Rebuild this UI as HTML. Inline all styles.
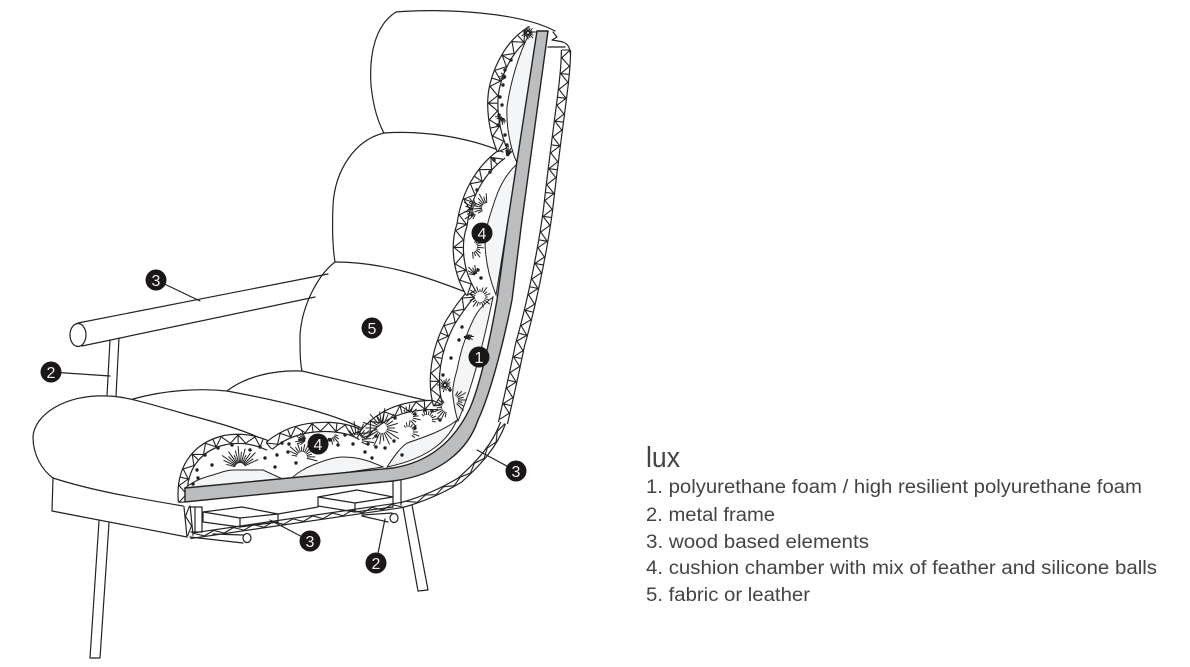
<!DOCTYPE html>
<html><head><meta charset="utf-8"><style>
html,body{margin:0;padding:0;background:#fff}
svg{display:block}
.l{fill:none;stroke:#222;stroke-width:1.2;stroke-linejoin:round;stroke-linecap:round}
text{font-family:"Liberation Sans",sans-serif;fill:#444}
.b text{fill:#eee;font-size:16px;text-anchor:middle}
.b circle{fill:#1b1717}
</style></head><body>
<svg id="s" xmlns="http://www.w3.org/2000/svg" width="1190" height="667" viewBox="0 0 1190 667">
<rect width="1190" height="667" fill="#fff"/>
<g class="l">
<path d="M396,12C440,8 520,12 555,31"/>
<path d="M396,12C375,25 369,55 371,85C373,105 378,122 384,133"/>
<path d="M384,133C425,130 470,138 503,152"/>
<path d="M384,133C355,140 335,170 333,205C332,230 333,250 335,262"/>
<path d="M335,262C385,262 430,278 468,293"/>
<path d="M335,262C318,275 302,305 300,335C300,350 300,362 302,371"/>
<path d="M302,371L437,403"/>
<path d="M227,391C245,377 272,370 302,371"/>
<path d="M133,399C165,390 200,388 227,391C275,400 330,412 361,428"/>
<path d="M33,437C34,415 65,394 107,396C125,396 150,404 185,414C215,422 245,430 266,441"/>
<path d="M33,437C33,455 42,470 53,478C90,490 130,497 183,506"/>
<path d="M53,478L52,511L187,537"/>
<path d="M78,323L328,274M82,346L315,297"/>
<ellipse cx="78" cy="335" rx="8" ry="11.5"/>
<path d="M110,340L107,396M119,338L116,396"/>
<path d="M99,521L90,658L100,658L109,523"/>
<path d="M403,507L418,591L428,590L412,505"/>
</g>
<g id="bands"></g>
<g fill="#f3f5f6" stroke="#222" stroke-width="1">
<path d="M530,32C518,55 510,85 507,107C506,125 510,148 517,163L537,32Z"/>
<path d="M517,164C508,172 500,185 495,200C490,215 485,230 485,240C485,260 490,280 496,295L517,164Z"/>
<path d="M493,297C485,303 481,307 477,313C471,323 468,331 465,340C461,350 459,360 457,370C454,380 452,390 453,397C454,405 456,415 458,421C465,405 478,370 493,297Z"/>
<path d="M185,488C195,480 205,477 213,475C222,472 228,470 233,470L263,470L287,481Z"/>
<path d="M289,481C295,474 305,468 313,465C325,460 335,457 343,457C360,457 372,462 383,467Z"/>
<path d="M387,467C395,455 400,448 407,443C425,437 445,430 457,420C448,440 430,458 387,467Z"/>
</g>
<path d="M185,488L393,468C430,462 455,440 470,408C480,385 490,340 497,300L508,220L537,31L548,31L522,220L512,300C505,335 492,390 478,420C468,450 440,475 393,481L185,502Z" fill="#bcbdbf" stroke="#222" stroke-width="1.4"/>
<g id="fe" stroke="#222" stroke-width="1" fill="#222"></g>
<g class="l">
<path d="M203,512L242,507L278,514L240,518Z" fill="#fff"/>
<path d="M240,518V527M278,514V522M203,512V522L240,527L278,522"/>
<path d="M318,497L357,490L393,497L355,503Z" fill="#fff"/>
<path d="M355,503V512M318,497V506L355,512L393,507M278,514L318,507"/>
<path d="M190,507H202V532H191M195,507V532"/>
<path d="M393,481V507M401,480V505M362,515L392,513M362,516L388,522"/>
<ellipse cx="394" cy="518" rx="4" ry="4.5" fill="#fff"/>
<path d="M213,534L243,535M190,537L243,543"/>
<ellipse cx="247" cy="538" rx="4" ry="4.5" fill="#fff"/>
<path d="M553,32L557,37L552,40L558,41L563,42C568,44 570,48 570,53M548,47H565"/>
<path d="M156,280L200,301M51,372L110,376M516,471L477,450M310,541L270,520M376,563L385,519"/>
</g>
<g class="b">
<circle cx="156" cy="280" r="10.5"/><text x="156" y="286">3</text>
<circle cx="51" cy="372" r="10.5"/><text x="51" y="378">2</text>
<circle cx="372" cy="328" r="10.5"/><text x="372" y="334">5</text>
<circle cx="482" cy="233" r="10.5"/><text x="482" y="239">4</text>
<circle cx="479" cy="357" r="10.5"/><text x="479" y="363">1</text>
<circle cx="318" cy="444" r="10.5"/><text x="318" y="450">4</text>
<circle cx="516" cy="471" r="10.5"/><text x="516" y="477">3</text>
<circle cx="310" cy="541" r="10.5"/><text x="310" y="547">3</text>
<circle cx="376" cy="563" r="10.5"/><text x="376" y="569">2</text>
</g>
<text x="646" y="467" font-size="29" textLength="34" lengthAdjust="spacingAndGlyphs">lux</text>
<g font-size="19">
<text x="646" y="493" textLength="496" lengthAdjust="spacingAndGlyphs">1. polyurethane foam / high resilient polyurethane foam</text>
<text x="646" y="521" textLength="129" lengthAdjust="spacingAndGlyphs">2. metal frame</text>
<text x="646" y="548" textLength="223" lengthAdjust="spacingAndGlyphs">3. wood based elements</text>
<text x="646" y="574" textLength="511" lengthAdjust="spacingAndGlyphs">4. cushion chamber with mix of feather and silicone balls</text>
<text x="646" y="601" textLength="164" lengthAdjust="spacingAndGlyphs">5. fabric or leather</text>
</g>
</svg>
<script>
(function(){
var N="http://www.w3.org/2000/svg";
function el(p,n,a){var e=document.createElementNS(N,n);for(var k in a)e.setAttribute(k,a[k]);p.appendChild(e);return e}
var B=document.getElementById("bands"),F=document.getElementById("fe");
var bands=[
["M183,502C180,470 195,447 225,440C243,437 255,440 269,446",8,8],
["M269,446C285,432 305,426 330,427C345,428 355,431 362,436",8,8],
["M362,436C375,420 395,404 438,405",8,8],
["M438,405C431,380 436,350 450,323C458,310 464,302 471,294",8,8],
["M471,293C458,272 455,245 462,225C466,195 480,170 502,154",9,8],
["M502,150C494,130 490,105 495,85C500,65 512,42 532,31",9,8],
["M566,50C566,80 558,120 548,210C542,255 530,310 520,345C514,375 508,400 503,423",8,8],
["M503,423C495,445 480,462 460,480C440,492 420,500 402,505",4,10],
["M402,505L190,536",4,10],
["M190,536L187,506",5,10]
];
bands.forEach(function(b){
 el(B,"path",{d:b[0],fill:"none",stroke:"#222","stroke-width":b[1]+2.4});
 el(B,"path",{d:b[0],fill:"none",stroke:"#fff","stroke-width":b[1]});
 var p=el(B,"path",{d:b[0],fill:"none"}),L=p.getTotalLength(),z="",r="",i=0,s=b[2];
 for(var t=0;t<=L;t+=s,i++){
  var a=p.getPointAtLength(t),c=p.getPointAtLength(Math.min(L,t+.5)),d=p.getPointAtLength(Math.max(0,t-.5));
  var nx=-(c.y-d.y),ny=c.x-d.x,m=Math.hypot(nx,ny)||1,o=(i%2?1:-1)*b[1]/2;
  var x1=a.x+nx/m*o,y1=a.y+ny/m*o,x2=a.x-nx/m*o,y2=a.y-ny/m*o;
  z+=(i?"L":"M")+x1.toFixed(1)+","+y1.toFixed(1);
  if(b[1]>=8&&i%3==0)r+="M"+x1.toFixed(1)+","+y1.toFixed(1)+"L"+x2.toFixed(1)+","+y2.toFixed(1);
 }
 p.setAttribute("d",z+r);p.setAttribute("stroke","#222");p.setAttribute("stroke-width","1.1");
});
var bursts=[[240,468,22,-165,-15,15],[302,457,16,-170,30,13],[382,428,20,0,360,22],[408,417,13,-120,70,10],
[357,440,19,-130,40,11],[408,432,12,-120,60,9],[427,420,12,-130,30,9],[447,407,16,100,250,10],[480,297,12,0,360,20],
[478,210,16,120,260,11],[472,247,13,-60,100,10],[445,385,8,0,360,14],[453,400,15,-60,60,8],[487,208,16,150,280,10],
[476,275,11,190,300,6],[463,337,11,-20,30,6],[503,117,8,60,200,8],[507,157,11,-100,-40,7],[528,33,7,0,360,16],[507,77,8,150,230,5],[306,440,11,140,260,8],[330,433,13,20,120,7]];
bursts.forEach(function(b){
 for(var i=0;i<b[5];i++){var a=(b[3]+(b[4]-b[3])*i/b[5])*Math.PI/180,r=b[2]*(.65+.35*((i*7)%5)/4),q=(b[2]>=12?5:1);
 el(F,"line",{x1:b[0]+Math.cos(a)*q,y1:b[1]+Math.sin(a)*q,x2:b[0]+Math.cos(a)*r,y2:b[1]+Math.sin(a)*r});}
});
[[197,470],[205,455],[212,465],[193,484],[198,478],[218,448],[232,445],[250,450],[260,447],[265,458],[275,467],[288,452],[282,443],[300,440],
[330,440],[338,445],[345,435],[353,444],[365,452],[376,447],[394,441],[402,455],[415,414],[432,411],[440,420],[395,418],[450,390],[462,327],[459,340],[451,358],[443,375],
[478,270],[481,278],[472,215],[477,190],[490,172],[494,160],[500,97],[502,105],[499,115],[503,85],[505,70],[511,60],[498,125],[507,145],[505,135],
[376,436],[368,444],[385,448],[372,458],[415,428],[425,410],[289,444],[296,463],[277,455]
].forEach(function(d){el(F,"circle",{cx:d[0],cy:d[1],r:1.7,stroke:"none"})});
})();
</script>
</body></html>
